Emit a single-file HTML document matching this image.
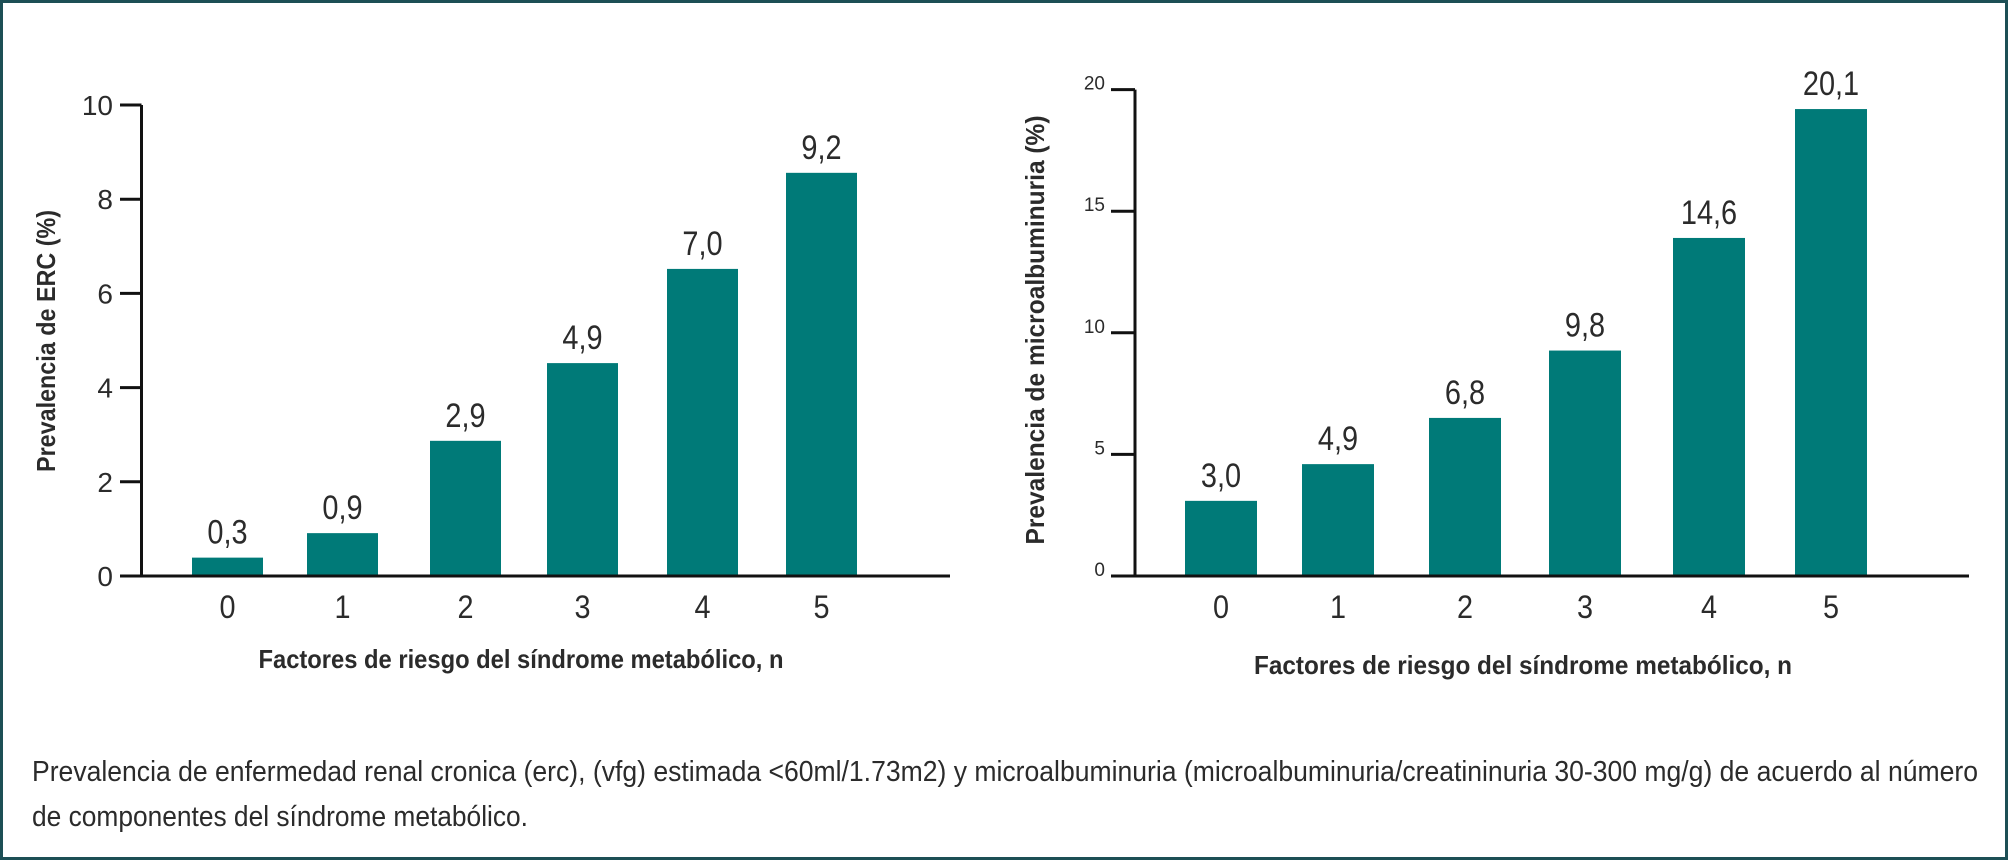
<!DOCTYPE html>
<html><head><meta charset="utf-8">
<style>
html,body{margin:0;padding:0;background:#fff;}
svg{display:block;}
text{font-family:"Liberation Sans Narrow","Liberation Sans",sans-serif;fill:#2b2b2b;}
</style></head>
<body>
<svg id="chart" width="2008" height="862" viewBox="0 0 2008 862" xmlns="http://www.w3.org/2000/svg">
<rect x="1.5" y="1.5" width="2005" height="857" fill="#fff" stroke="#1d4f55" stroke-width="3"/>
<g id="left"></g>
<g id="right"></g>
<text x="32" y="781" font-size="29" textLength="1946" lengthAdjust="spacingAndGlyphs">Prevalencia de enfermedad renal cronica (erc), (vfg) estimada &lt;60ml/1.73m2) y microalbuminuria (microalbuminuria/creatininuria 30-300 mg/g) de acuerdo al número</text>
<text x="32" y="826" font-size="29" textLength="496" lengthAdjust="spacingAndGlyphs">de componentes del síndrome metabólico.</text>
</svg>
<script>
const categories = ["0","1","2","3","4","5"];
const ercValues = [0.39, 0.91, 2.87, 4.52, 6.52, 8.56];
const ercLabels = ["0,3","0,9","2,9","4,9","7,0","9,2"];
const ercTicks = [0,2,4,6,8,10];
const microValues = [3.09, 4.6, 6.5, 9.27, 13.9, 19.2];
const microLabels = ["3,0","4,9","6,8","9,8","14,6","20,1"];
const microTicks = [0,5,10,15,20];
const NS="http://www.w3.org/2000/svg";
function mk(parent,tag,attrs,txt){const e=document.createElementNS(NS,tag);for(const k in attrs)e.setAttribute(k,attrs[k]);if(txt!==undefined)e.textContent=txt;parent.appendChild(e);return e;}
function draw(g,cfg){
  const y=v=>cfg.y0-(v-0)/cfg.max*(cfg.y0-cfg.yTop);
  const axis=mk(g,'path',{d:`M${cfg.ax} ${cfg.yTop} V${cfg.y0} H${cfg.xEnd}`,fill:'none',stroke:'#111','stroke-width':3});
  
  
  cfg.ticks.forEach(t=>{
    const l=mk(g,'line',{x1:cfg.tx,x2:cfg.ax,y1:y(t),y2:y(t),stroke:'#111','stroke-width':3});
    
    
    const tt=mk(g,'text',{x:cfg.tlx,y:y(t)+cfg.tdy,'font-size':cfg.tfs,'text-anchor':'end'},String(t));
    
    
  });
  categories.forEach((c,i)=>{
    const x=cfg.bx[i];
    const r=mk(g,'rect',{x:x,y:y(cfg.values[i]),width:cfg.bw,height:cfg.y0-1.5-y(cfg.values[i]),fill:'#007a78'});
    
    
    const cx=x+cfg.bw/2, vy=y(cfg.values[i])-cfg.vgap;
    const vl=mk(g,'text',{x:0,y:0,'font-size':34,'text-anchor':'middle',transform:`translate(${cx},${vy}) scale(0.85,1)`},cfg.labels[i]);
    
    
    const cl=mk(g,'text',{x:0,y:0,'font-size':32,'text-anchor':'middle',transform:`translate(${cx},618) scale(0.9,1)`},c);
    
    
  });
  const xt=mk(g,'text',{x:cfg.xtx-cfg.xtw/2,y:cfg.xty,'font-size':26,'font-weight':'bold',textLength:cfg.xtw,lengthAdjust:'spacingAndGlyphs'},'Factores de riesgo del síndrome metabólico, n');
  
  
  const yt=mk(g,'text',{x:-cfg.ytw/2,y:0,'font-size':26,'font-weight':'bold',textLength:cfg.ytw,lengthAdjust:'spacingAndGlyphs',transform:`translate(${cfg.ytx},${cfg.yty}) rotate(-90)`},cfg.ytitle);
  
  
}
draw(document.getElementById('left'),{values:ercValues,labels:ercLabels,ticks:ercTicks,max:10,y0:576,yTop:105,ax:141.5,xEnd:950,tx:120,tlx:113,tdy:10,tfs:28,
  bx:[192,307,430,547,667,786],bw:71,vgap:14,xtx:521,xtw:525,xty:668,ytx:55,yty:341,ytw:262,ytitle:'Prevalencia de ERC (%)'});
draw(document.getElementById('right'),{values:microValues,labels:microLabels,ticks:microTicks,max:20,y0:576,yTop:89.6,ax:1135,xEnd:1969,tx:1111,tlx:1105,tdy:0,tfs:19,
  bx:[1185,1302,1429,1549,1673,1795],bw:72,vgap:14,xtx:1523,xtw:538,xty:674,ytx:1044,yty:330,ytw:429,ytitle:'Prevalencia de microalbuminuria (%)'});
</script>
</body></html>
